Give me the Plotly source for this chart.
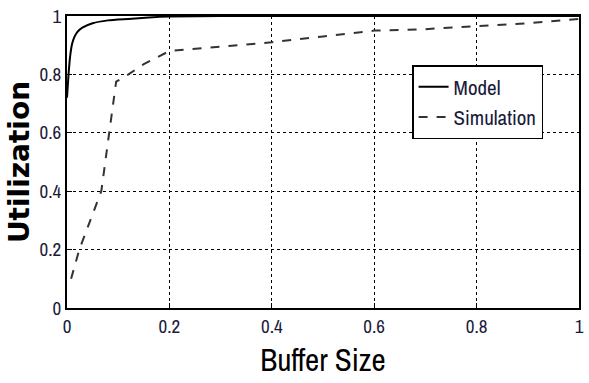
import plotly.graph_objects as go

model_x = [0.0, 0.003, 0.006, 0.01, 0.015, 0.02, 0.03, 0.05, 0.08, 0.12, 0.16, 0.2, 0.3, 0.5, 0.7, 1.0]
model_y = [0.72, 0.80, 0.86, 0.905, 0.93, 0.945, 0.96, 0.975, 0.985, 0.99, 0.995, 0.998, 1.0, 1.0, 1.0, 1.0]

sim_x = [0.008, 0.024, 0.067, 0.096, 0.12, 0.15, 0.2, 0.3, 0.4, 0.5, 0.6, 0.7, 0.8, 0.9, 1.0]
sim_y = [0.10, 0.20, 0.40, 0.775, 0.80, 0.835, 0.88, 0.895, 0.91, 0.93, 0.95, 0.955, 0.965, 0.975, 0.99]

ticks = [0, 0.2, 0.4, 0.6, 0.8, 1]
tick_text = ["0", "0.2", "0.4", "0.6", "0.8", "1"]

FONT = "Archivo Narrow, Roboto Condensed, Liberation Sans"

fig = go.Figure()
fig.add_trace(go.Scatter(x=model_x, y=model_y, mode="lines", name="Model", legendgroup="a",
                         line=dict(color="black", width=2, shape="spline", smoothing=0.6)))
fig.add_trace(go.Scatter(x=sim_x, y=sim_y, mode="lines", name="Simulation", legendgroup="b",
                         line=dict(color="#333333", width=2, dash="dash")))

axis_common = dict(
    showline=True, mirror=True, linecolor="black", linewidth=2,
    showgrid=True, gridcolor="black", griddash="dot", gridwidth=1,
    ticks="inside", ticklen=5, tickcolor="black",
    tickvals=ticks, ticktext=tick_text, zeroline=False, automargin=False,
    tickfont=dict(family=FONT, size=19, color="#1a1a3a"),
)

fig.update_layout(
    width=589, height=383,
    margin=dict(l=67, r=10, t=16, b=75),
    paper_bgcolor="white", plot_bgcolor="white",
    xaxis=dict(range=[0, 1], title=dict(text="Buffer Size", font=dict(family=FONT, size=31, color="black"), standoff=2), **axis_common),
    yaxis=dict(range=[0, 1], title=dict(text="<b>Utilization</b>", font=dict(family="DejaVu Sans", size=28, color="black"), standoff=2), **axis_common),
    legend=dict(x=0.674, y=0.832, xanchor="left", yanchor="top",
                bgcolor="white", bordercolor="black", borderwidth=1.5,
                traceorder="grouped", tracegroupgap=0,
                font=dict(family=FONT, size=21, color="#1a1a3a")),
)

fig.write_html("out.html")
